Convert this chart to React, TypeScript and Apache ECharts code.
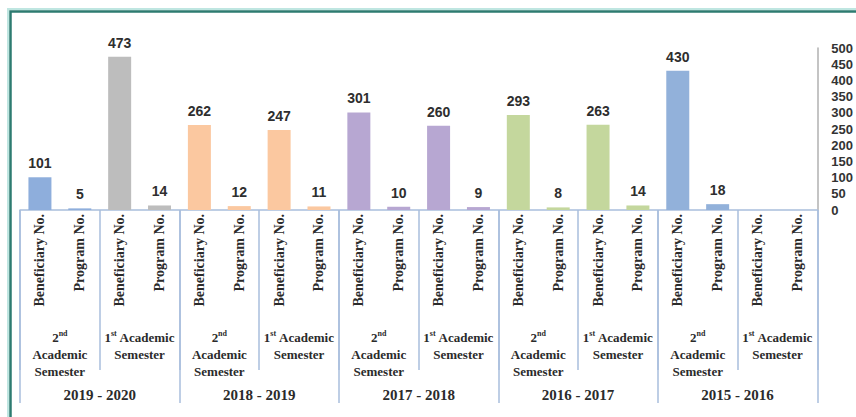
import React, { useEffect, useRef } from "react";
import * as echarts from "echarts";

const years = ["2019 - 2020", "2018 - 2019", "2017 - 2018", "2016 - 2017", "2015 - 2016"];
const semesters = ["2nd", "1st", "2nd", "1st", "2nd", "1st", "2nd", "1st", "2nd", "1st"];
const measures = ["Beneficiary No.", "Program No."];
const beneficiaryNo: (number | null)[] = [101, 473, 262, 247, 301, 260, 293, 263, 430, null];
const programNo: (number | null)[] = [5, 14, 12, 11, 10, 9, 8, 14, 18, null];
const yTicks = [0, 500, 50];

const semesterColors = [
  "#8eaedc", "#bdbdbd", "#fbc8a0", "#fbc8a0", "#b7a7d2",
  "#b7a7d2", "#c4d79d", "#c4d79d", "#92b1da", "#92b1da",
];

export default function App() {
  const ref = useRef<HTMLDivElement>(null);
  useEffect(() => {
    if (!ref.current) return;
    const chart = echarts.init(ref.current, undefined, { renderer: "svg" });

    const barCats: string[] = [];
    const barData: any[] = [];
    semesters.forEach((_, i) => {
      const vals = [beneficiaryNo[i], programNo[i]];
      measures.forEach((m, j) => {
        barCats.push(m);
        const v = vals[j];
        barData.push(
          v == null
            ? "-"
            : { value: v, itemStyle: { color: semesterColors[i] } }
        );
      });
    });

    const serif = "'Liberation Serif', 'Times New Roman', serif";
    const sans = "'Liberation Sans', Arial, sans-serif";
    const lineColor = "#a9bedc";

    chart.setOption({
      animation: false,
      backgroundColor: "#ffffff",
      grid: { left: 20, right: 36, top: 48, bottom: 207, containLabel: false },
      graphic: [
        {
          type: "rect",
          shape: { x: 8, y: 9, width: 870, height: 430 },
          style: { fill: "none", stroke: "#bfe6e1", lineWidth: 2 },
          silent: true,
        },
        {
          type: "rect",
          shape: { x: 10.5, y: 11.5, width: 870, height: 430 },
          style: { fill: "none", stroke: "#2d7b70", lineWidth: 2.5 },
          silent: true,
        },
      ],
      xAxis: [
        {
          type: "category",
          position: "bottom",
          data: barCats,
          axisLine: { show: true, lineStyle: { color: lineColor, width: 1.5 } },
          axisTick: { show: false },
          axisLabel: {
            interval: 0,
            rotate: 90,
            margin: 4,
            fontFamily: serif,
            fontWeight: "bold",
            fontSize: 14,
            color: "#2b2b2b",
          },
        },
        {
          type: "category",
          position: "bottom",
          data: semesters,
          axisLine: { show: false },
          axisTick: {
            show: true,
            interval: 0,
            length: 160,
            lineStyle: { color: lineColor, width: 1.5 },
          },
          axisLabel: {
            interval: 0,
            margin: 119,
            formatter: (v: string) => {
              const num = v.charAt(0);
              const suf = v.slice(1);
              if (num === "2") {
                return `{b|${num}}{s|${suf}}\n{b|Academic}\n{b|Semester}`;
              }
              return `{b|${num}}{s|${suf}}{b| Academic}\n{b|Semester}`;
            },
            rich: {
              b: {
                fontFamily: serif,
                fontWeight: "bold",
                fontSize: 13,
                color: "#2b2b2b",
                lineHeight: 17,
              },
              s: {
                fontFamily: serif,
                fontWeight: "bold",
                fontSize: 8,
                color: "#2b2b2b",
                verticalAlign: "top",
                lineHeight: 17,
              },
            },
          },
        },
        {
          type: "category",
          position: "bottom",
          data: years,
          axisLine: { show: false },
          axisTick: {
            show: true,
            interval: 0,
            length: 193,
            lineStyle: { color: lineColor, width: 1.5 },
          },
          axisLabel: {
            interval: 0,
            margin: 177,
            fontFamily: serif,
            fontWeight: "bold",
            fontSize: 15,
            color: "#2b2b2b",
          },
        },
      ],
      yAxis: {
        type: "value",
        position: "right",
        min: yTicks[0],
        max: yTicks[1],
        interval: yTicks[2],
        axisLine: { show: true, lineStyle: { color: "#b0b0b0", width: 1.5 } },
        axisTick: { show: false },
        splitLine: { show: false },
        axisLabel: {
          margin: 14,
          fontFamily: sans,
          fontWeight: "bold",
          fontSize: 13,
          color: "#333333",
        },
      },
      series: [
        {
          type: "bar",
          xAxisIndex: 0,
          data: barData,
          barWidth: 23,
          label: {
            show: true,
            position: "top",
            distance: 7,
            fontFamily: sans,
            fontWeight: "bold",
            fontSize: 14,
            color: "#2e2e2e",
          },
        },
      ],
    });
    return () => chart.dispose();
  }, []);

  return (
    <div
      ref={ref}
      style={{ position: "fixed", left: 0, top: 0, width: 856, height: 417, background: "#fff" }}
    />
  );
}
